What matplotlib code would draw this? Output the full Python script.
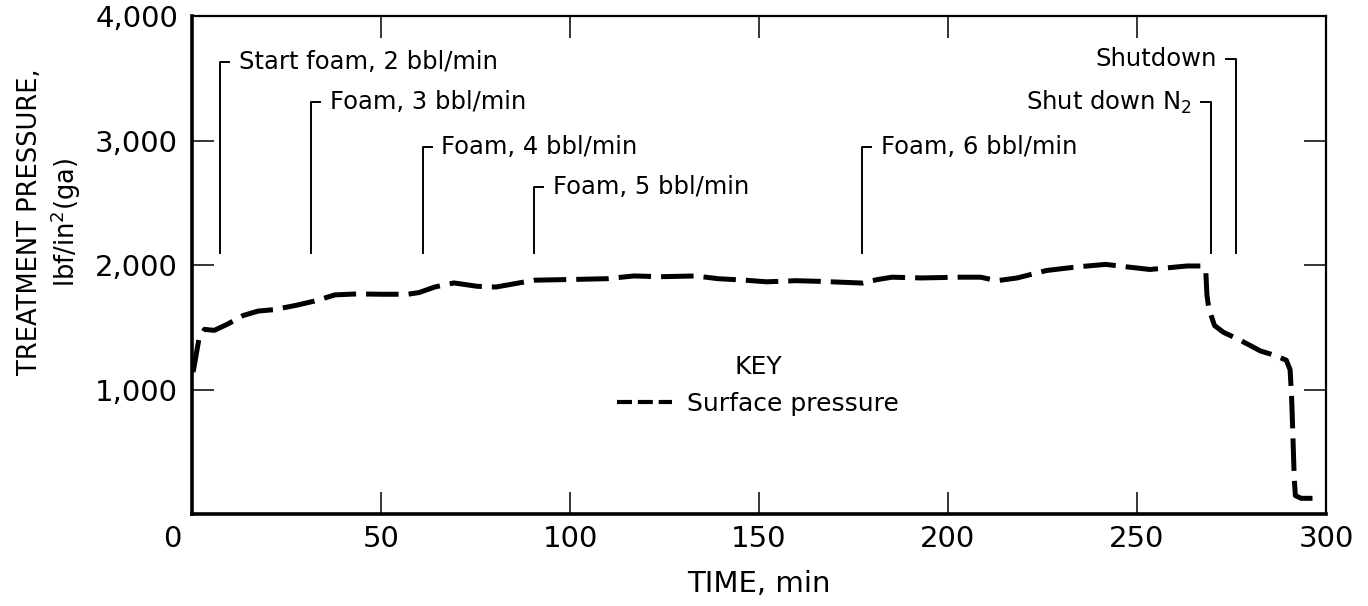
import matplotlib
matplotlib.use("Agg")
import matplotlib.pyplot as plt
from matplotlib.lines import Line2D
from matplotlib.transforms import ScaledTranslation

plt.rcParams['font.family'] = ['DejaVu Sans']

# ---- data ----
time_min = [0.3, 1.8, 3.3, 5.9, 9.4, 13.5, 17.5, 21.6, 27.7, 32.8, 37.8, 43.9,
            50.0, 57.1, 60.1, 64.2, 69.3, 75.4, 80.4, 86.5, 90.6, 100.7, 109.8,
            116.9, 124.0, 133.2, 139.2, 146.3, 152.0, 159.8, 165.7, 177.4, 181.3,
            185.2, 193.0, 202.7, 208.6, 213.0, 218.3, 226.1, 233.9, 241.7, 247.6,
            253.4, 263.2, 267.1, 268.2, 268.5, 269.0, 270.5, 272.9, 276.8, 282.7,
            286.6, 289.5, 290.5, 290.9, 291.2, 291.6, 291.9, 293.4, 297.3]
surface_pressure = [1140, 1400, 1483, 1475, 1525, 1594, 1630, 1641, 1677, 1713, 1760, 1768,
                    1765, 1765, 1779, 1823, 1856, 1829, 1823, 1856, 1878, 1884, 1890,
                    1912, 1906, 1912, 1890, 1878, 1865, 1874, 1869, 1855, 1883,
                    1902, 1896, 1902, 1902, 1874, 1896, 1956, 1984, 2005, 1984,
                    1964, 1992, 1992, 1951, 1760, 1650, 1514, 1459, 1404, 1309,
                    1273, 1235, 1159, 940, 667, 284, 148, 126, 126]

event_times = [7.4, 31.5, 61.0, 90.5, 177.2, 269.5, 276.2]
event_labels = ["Start foam, 2 bbl/min", "Foam, 3 bbl/min", "Foam, 4 bbl/min",
                "Foam, 5 bbl/min", "Foam, 6 bbl/min", "Shut down N$_2$", "Shutdown"]

xticks = [0, 50, 100, 150, 200, 250, 300]
yticks = [1000, 2000, 3000, 4000]
ytick_labels = ["1,000", "2,000", "3,000", "4,000"]

# ---- layout (annotation placement) ----
label_heights = [3633, 3312, 2950, 2624, 2947, 3307, 3653]
label_sides = ['r', 'r', 'r', 'r', 'r', 'l', 'l']
bracket_bottom = 2100

fig = plt.figure(figsize=(13.68, 6.06), dpi=100)
ax = fig.add_axes([192/1368, 1-514/606, (1326-192)/1368, (514-16)/606])

ax.plot(time_min, surface_pressure, color='black', lw=3.6,
        linestyle=(0, (6.5, 2.0)), solid_capstyle='butt', dash_capstyle='butt')

for t, lab, h, side in zip(event_times, event_labels, label_heights, label_sides):
    dx = 2.4 if side == 'r' else -2.6
    ax.plot([t, t, t + dx], [bracket_bottom, h, h], color='black', lw=1.4)
    if side == 'r':
        ax.text(t + 5.0, h, lab, ha='left', va='center', fontsize=17.5)
    else:
        ax.text(t - 5.0, h, lab, ha='right', va='center', fontsize=17.5)

ax.set_xlim(0, 300)
ax.set_ylim(0, 4000)
ax.set_xticks(xticks)
ax.set_xticklabels([str(v) for v in xticks])
ax.set_yticks(yticks)
ax.set_yticklabels(ytick_labels)
ax.tick_params(axis='both', direction='in', length=16, width=1.1, labelsize=21,
               top=True, right=True)
ax.tick_params(axis='x', pad=8)
ax.tick_params(axis='y', pad=10)

for s in ['left', 'bottom']:
    ax.spines[s].set_linewidth(2.6)
for s in ['top', 'right']:
    ax.spines[s].set_linewidth(1.6)

fig.canvas.draw()
lbl0 = ax.get_xticklabels()[0]
lbl0.set_transform(lbl0.get_transform() + ScaledTranslation(-14/72, 0, fig.dpi_scale_trans))

ax.set_xlabel("TIME, min", fontsize=21, labelpad=12)
fig.text(50/1368, 1-222/606, "TREATMENT PRESSURE,\nlbf/in$^2$(ga)", rotation=90,
         ha='center', va='center', multialignment='center', fontsize=18.5)

proxy = Line2D([0], [0], color='black', lw=3.0, linestyle=(0, (3.6, 1.4)))
leg = ax.legend([proxy], ["Surface pressure"], title="KEY", loc='center',
                bbox_to_anchor=(0.499, 0.258), frameon=False, fontsize=18,
                title_fontsize=18, handlelength=2.2, handletextpad=0.6)

fig.savefig("out.png", dpi=100, facecolor='white')
